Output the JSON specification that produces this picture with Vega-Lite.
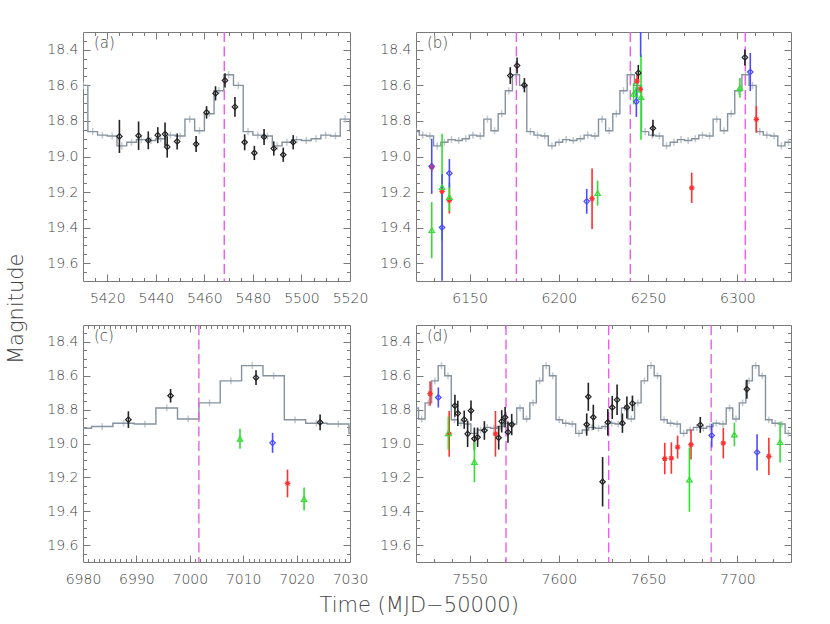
{
"$schema":"https://vega.github.io/schema/vega-lite/v6.json",
"padding":{"left":6,"top":31,"right":10,"bottom":5},
"background":"white",
"datasets":{
"a_model":[{"t":5406,"m":18.54,"e":0.02},{"t":5410,"m":18.60,"e":0.02},{"t":5414,"m":18.86,"e":0.02},{"t":5418,"m":18.88,"e":0.02},{"t":5422,"m":18.885,"e":0.02},{"t":5426,"m":18.94,"e":0.02},{"t":5430,"m":18.92,"e":0.02},{"t":5434,"m":18.905,"e":0.02},{"t":5438,"m":18.91,"e":0.02},{"t":5442,"m":18.90,"e":0.02},{"t":5446,"m":18.88,"e":0.02},{"t":5450,"m":18.885,"e":0.02},{"t":5454,"m":18.79,"e":0.02},{"t":5458,"m":18.855,"e":0.02},{"t":5462,"m":18.76,"e":0.02},{"t":5466,"m":18.63,"e":0.02},{"t":5470,"m":18.54,"e":0.02},{"t":5474,"m":18.60,"e":0.02},{"t":5478,"m":18.86,"e":0.02},{"t":5482,"m":18.88,"e":0.02},{"t":5486,"m":18.885,"e":0.02},{"t":5490,"m":18.94,"e":0.02},{"t":5494,"m":18.92,"e":0.02},{"t":5498,"m":18.905,"e":0.02},{"t":5502,"m":18.91,"e":0.02},{"t":5506,"m":18.90,"e":0.02},{"t":5510,"m":18.88,"e":0.02},{"t":5514,"m":18.885,"e":0.02},{"t":5518,"m":18.79,"e":0.02},{"t":5522,"m":18.855,"e":0.02}],
"a_dash":[{"t":5468.2}],
"a_obs":[{"t":5425.0,"m":18.887,"e":0.093,"band":"k"},{"t":5432.9,"m":18.883,"e":0.08,"band":"k"},{"t":5436.9,"m":18.909,"e":0.05,"band":"k"},{"t":5440.8,"m":18.88,"e":0.045,"band":"k"},{"t":5443.8,"m":18.874,"e":0.065,"band":"k"},{"t":5444.7,"m":18.946,"e":0.06,"band":"k"},{"t":5448.8,"m":18.915,"e":0.045,"band":"k"},{"t":5456.6,"m":18.93,"e":0.045,"band":"k"},{"t":5460.9,"m":18.752,"e":0.035,"band":"k"},{"t":5464.6,"m":18.645,"e":0.04,"band":"k"},{"t":5468.5,"m":18.572,"e":0.04,"band":"k"},{"t":5472.6,"m":18.721,"e":0.055,"band":"k"},{"t":5476.6,"m":18.92,"e":0.045,"band":"k"},{"t":5480.6,"m":18.98,"e":0.04,"band":"k"},{"t":5484.6,"m":18.89,"e":0.045,"band":"k"},{"t":5488.6,"m":18.955,"e":0.04,"band":"k"},{"t":5492.5,"m":18.99,"e":0.04,"band":"k"},{"t":5496.6,"m":18.92,"e":0.04,"band":"k"}],
"b_model":[{"t":6115.8,"m":18.60,"e":0.02},{"t":6119.8,"m":18.86,"e":0.02},{"t":6123.8,"m":18.88,"e":0.02},{"t":6127.8,"m":18.885,"e":0.02},{"t":6131.9,"m":18.94,"e":0.02},{"t":6135.9,"m":18.92,"e":0.02},{"t":6139.9,"m":18.905,"e":0.02},{"t":6143.9,"m":18.91,"e":0.02},{"t":6147.9,"m":18.90,"e":0.02},{"t":6151.9,"m":18.88,"e":0.02},{"t":6156.0,"m":18.885,"e":0.02},{"t":6160.0,"m":18.79,"e":0.02},{"t":6164.0,"m":18.855,"e":0.02},{"t":6168.0,"m":18.76,"e":0.02},{"t":6172.0,"m":18.63,"e":0.02},{"t":6176.0,"m":18.54,"e":0.02},{"t":6180.0,"m":18.60,"e":0.02},{"t":6184.1,"m":18.86,"e":0.02},{"t":6188.1,"m":18.88,"e":0.02},{"t":6192.1,"m":18.885,"e":0.02},{"t":6196.1,"m":18.94,"e":0.02},{"t":6200.1,"m":18.92,"e":0.02},{"t":6204.1,"m":18.905,"e":0.02},{"t":6208.1,"m":18.91,"e":0.02},{"t":6212.1,"m":18.90,"e":0.02},{"t":6216.2,"m":18.88,"e":0.02},{"t":6220.2,"m":18.885,"e":0.02},{"t":6224.2,"m":18.79,"e":0.02},{"t":6228.2,"m":18.855,"e":0.02},{"t":6232.2,"m":18.76,"e":0.02},{"t":6236.2,"m":18.63,"e":0.02},{"t":6240.3,"m":18.54,"e":0.02},{"t":6244.3,"m":18.60,"e":0.02},{"t":6248.3,"m":18.86,"e":0.02},{"t":6252.3,"m":18.88,"e":0.02},{"t":6256.3,"m":18.885,"e":0.02},{"t":6260.3,"m":18.94,"e":0.02},{"t":6264.4,"m":18.92,"e":0.02},{"t":6268.4,"m":18.905,"e":0.02},{"t":6272.4,"m":18.91,"e":0.02},{"t":6276.4,"m":18.90,"e":0.02},{"t":6280.4,"m":18.88,"e":0.02},{"t":6284.4,"m":18.885,"e":0.02},{"t":6288.4,"m":18.79,"e":0.02},{"t":6292.5,"m":18.855,"e":0.02},{"t":6296.5,"m":18.76,"e":0.02},{"t":6300.5,"m":18.63,"e":0.02},{"t":6304.5,"m":18.54,"e":0.02},{"t":6308.5,"m":18.60,"e":0.02},{"t":6312.5,"m":18.86,"e":0.02},{"t":6316.5,"m":18.88,"e":0.02},{"t":6320.6,"m":18.885,"e":0.02},{"t":6324.6,"m":18.94,"e":0.02},{"t":6328.6,"m":18.92,"e":0.02},{"t":6332.6,"m":18.905,"e":0.02}],
"b_dash":[{"t":6176.2},{"t":6240.0},{"t":6304.4}],
"b_obs":[{"t":6172.8,"m":18.545,"e":0.047,"band":"k"},{"t":6176.6,"m":18.489,"e":0.045,"band":"k"},{"t":6180.7,"m":18.599,"e":0.04,"band":"k"},{"t":6244.5,"m":18.53,"e":0.045,"band":"k"},{"t":6252.7,"m":18.841,"e":0.047,"band":"k"},{"t":6304.2,"m":18.443,"e":0.045,"band":"k"},
{"t":6128.8,"m":19.06,"e":0.02,"band":"r"},{"t":6134.6,"m":19.196,"e":0.03,"band":"r"},{"t":6138.7,"m":19.247,"e":0.074,"band":"r"},{"t":6218.6,"m":19.237,"e":0.17,"band":"r"},{"t":6243.8,"m":18.577,"e":0.04,"band":"r"},{"t":6245.6,"m":18.623,"e":0.02,"band":"r"},{"t":6274.4,"m":19.176,"e":0.085,"band":"r"},{"t":6310.6,"m":18.791,"e":0.075,"band":"r"},
{"t":6128.8,"m":19.414,"e":0.158,"band":"g"},{"t":6134.6,"m":19.172,"e":0.3,"band":"g"},{"t":6138.7,"m":19.228,"e":0.08,"band":"g"},{"t":6221.7,"m":19.206,"e":0.07,"band":"g"},{"t":6241.9,"m":18.647,"e":0.06,"band":"g"},{"t":6243.8,"m":18.623,"e":0.05,"band":"g"},{"t":6246.0,"m":18.666,"e":0.24,"band":"g"},{"t":6301.4,"m":18.614,"e":0.055,"band":"g"},
{"t":6128.8,"m":19.055,"e":0.155,"band":"b"},{"t":6134.6,"m":19.399,"e":0.3,"band":"b"},{"t":6138.7,"m":19.094,"e":0.08,"band":"b"},{"t":6215.6,"m":19.252,"e":0.07,"band":"b"},{"t":6243.4,"m":18.692,"e":0.085,"band":"b"},{"t":6245.8,"m":18.27,"e":0.17,"band":"b"},{"t":6307.2,"m":18.525,"e":0.107,"band":"b"}],
"c_model":[{"t":6975.6,"m":18.905,"e":0.02},{"t":6979.6,"m":18.91,"e":0.02},{"t":6983.6,"m":18.90,"e":0.02},{"t":6987.6,"m":18.88,"e":0.02},{"t":6991.6,"m":18.885,"e":0.02},{"t":6995.7,"m":18.79,"e":0.02},{"t":6999.7,"m":18.855,"e":0.02},{"t":7003.7,"m":18.76,"e":0.02},{"t":7007.7,"m":18.63,"e":0.02},{"t":7011.7,"m":18.54,"e":0.02},{"t":7015.7,"m":18.60,"e":0.02},{"t":7019.7,"m":18.86,"e":0.02},{"t":7023.7,"m":18.88,"e":0.02},{"t":7027.8,"m":18.885,"e":0.02},{"t":7031.8,"m":18.94,"e":0.02}],
"c_dash":[{"t":7001.7}],
"c_obs":[{"t":6988.5,"m":18.859,"e":0.049,"band":"k"},{"t":6996.4,"m":18.718,"e":0.04,"band":"k"},{"t":7012.4,"m":18.611,"e":0.043,"band":"k"},{"t":7024.4,"m":18.875,"e":0.047,"band":"k"},{"t":7009.4,"m":18.972,"e":0.059,"band":"g"},{"t":7021.4,"m":19.328,"e":0.068,"band":"g"},{"t":7015.5,"m":18.996,"e":0.059,"band":"b"},{"t":7018.3,"m":19.236,"e":0.082,"band":"r"}],
"d_model":[{"t":7515.92,"m":18.885,"e":0.02},{"t":7519.59,"m":18.79,"e":0.02},{"t":7523.25,"m":18.855,"e":0.02},{"t":7526.92,"m":18.76,"e":0.02},{"t":7530.59,"m":18.63,"e":0.02},{"t":7534.25,"m":18.54,"e":0.02},{"t":7537.92,"m":18.60,"e":0.02},{"t":7541.58,"m":18.86,"e":0.02},{"t":7545.25,"m":18.88,"e":0.02},{"t":7548.91,"m":18.885,"e":0.02},{"t":7552.58,"m":18.94,"e":0.02},{"t":7556.25,"m":18.92,"e":0.02},{"t":7559.91,"m":18.905,"e":0.02},{"t":7563.58,"m":18.91,"e":0.02},{"t":7567.24,"m":18.90,"e":0.02},{"t":7570.91,"m":18.88,"e":0.02},{"t":7574.58,"m":18.885,"e":0.02},{"t":7578.24,"m":18.79,"e":0.02},{"t":7581.91,"m":18.855,"e":0.02},{"t":7585.57,"m":18.76,"e":0.02},{"t":7589.24,"m":18.63,"e":0.02},{"t":7592.90,"m":18.54,"e":0.02},{"t":7596.57,"m":18.60,"e":0.02},{"t":7600.24,"m":18.86,"e":0.02},{"t":7603.90,"m":18.88,"e":0.02},{"t":7607.57,"m":18.885,"e":0.02},{"t":7611.23,"m":18.94,"e":0.02},{"t":7614.90,"m":18.92,"e":0.02},{"t":7618.56,"m":18.905,"e":0.02},{"t":7622.23,"m":18.91,"e":0.02},{"t":7625.90,"m":18.90,"e":0.02},{"t":7629.56,"m":18.88,"e":0.02},{"t":7633.23,"m":18.885,"e":0.02},{"t":7636.89,"m":18.79,"e":0.02},{"t":7640.56,"m":18.855,"e":0.02},{"t":7644.23,"m":18.76,"e":0.02},{"t":7647.89,"m":18.63,"e":0.02},{"t":7651.56,"m":18.54,"e":0.02},{"t":7655.22,"m":18.60,"e":0.02},{"t":7658.89,"m":18.86,"e":0.02},{"t":7662.55,"m":18.88,"e":0.02},{"t":7666.22,"m":18.885,"e":0.02},{"t":7669.89,"m":18.94,"e":0.02},{"t":7673.55,"m":18.92,"e":0.02},{"t":7677.22,"m":18.905,"e":0.02},{"t":7680.88,"m":18.91,"e":0.02},{"t":7684.55,"m":18.90,"e":0.02},{"t":7688.21,"m":18.88,"e":0.02},{"t":7691.88,"m":18.885,"e":0.02},{"t":7695.55,"m":18.79,"e":0.02},{"t":7699.21,"m":18.855,"e":0.02},{"t":7702.88,"m":18.76,"e":0.02},{"t":7706.54,"m":18.63,"e":0.02},{"t":7710.21,"m":18.54,"e":0.02},{"t":7713.88,"m":18.60,"e":0.02},{"t":7717.54,"m":18.86,"e":0.02},{"t":7721.21,"m":18.88,"e":0.02},{"t":7724.87,"m":18.885,"e":0.02},{"t":7728.54,"m":18.94,"e":0.02},{"t":7732.20,"m":18.92,"e":0.02}],
"d_dash":[{"t":7570.4},{"t":7627.9},{"t":7685.3}],
"d_obs":[{"t":7541.8,"m":18.777,"e":0.065,"band":"k"},{"t":7543.4,"m":18.822,"e":0.075,"band":"k"},{"t":7547.0,"m":18.859,"e":0.054,"band":"k"},{"t":7548.9,"m":18.943,"e":0.078,"band":"k"},{"t":7550.8,"m":18.806,"e":0.06,"band":"k"},{"t":7552.7,"m":18.972,"e":0.066,"band":"k"},{"t":7554.5,"m":18.963,"e":0.057,"band":"k"},{"t":7558.3,"m":18.923,"e":0.055,"band":"k"},{"t":7566.3,"m":18.966,"e":0.07,"band":"k"},{"t":7568.0,"m":18.869,"e":0.066,"band":"k"},{"t":7569.9,"m":18.845,"e":0.06,"band":"k"},{"t":7571.5,"m":18.933,"e":0.063,"band":"k"},{"t":7573.6,"m":18.888,"e":0.063,"band":"k"},{"t":7615.6,"m":18.888,"e":0.066,"band":"k"},{"t":7616.5,"m":18.724,"e":0.083,"band":"k"},{"t":7619.3,"m":18.845,"e":0.074,"band":"k"},{"t":7624.5,"m":19.226,"e":0.146,"band":"k"},{"t":7627.4,"m":18.875,"e":0.078,"band":"k"},{"t":7629.9,"m":18.787,"e":0.068,"band":"k"},{"t":7632.6,"m":18.742,"e":0.09,"band":"k"},{"t":7635.6,"m":18.88,"e":0.057,"band":"k"},{"t":7638.1,"m":18.787,"e":0.065,"band":"k"},{"t":7641.2,"m":18.763,"e":0.046,"band":"k"},{"t":7679.2,"m":18.89,"e":0.047,"band":"k"},{"t":7705.3,"m":18.679,"e":0.056,"band":"k"},
{"t":7527.9,"m":18.705,"e":0.072,"band":"r"},{"t":7538.6,"m":18.943,"e":0.135,"band":"r"},{"t":7564.5,"m":18.943,"e":0.135,"band":"r"},{"t":7659.3,"m":19.089,"e":0.093,"band":"r"},{"t":7663.0,"m":19.086,"e":0.093,"band":"r"},{"t":7666.5,"m":19.021,"e":0.068,"band":"r"},{"t":7674.0,"m":19.007,"e":0.088,"band":"r"},{"t":7692.1,"m":18.998,"e":0.09,"band":"r"},{"t":7717.6,"m":19.076,"e":0.11,"band":"r"},
{"t":7532.5,"m":18.728,"e":0.059,"band":"b"},{"t":7685.6,"m":18.953,"e":0.07,"band":"b"},{"t":7711.0,"m":19.052,"e":0.107,"band":"b"},
{"t":7538.1,"m":18.939,"e":0.098,"band":"g"},{"t":7552.7,"m":19.109,"e":0.12,"band":"g"},{"t":7673.1,"m":19.213,"e":0.19,"band":"g"},{"t":7698.3,"m":18.947,"e":0.07,"band":"g"},{"t":7723.9,"m":18.992,"e":0.12,"band":"g"}]
},
"title":{"text":"Time (MJD−50000)","orient":"bottom","anchor":"middle","offset":8,"dx":20,"fontSize":21,"font":"DejaVu Sans","fontWeight":300,"color":"#444444"},
"vconcat":[{
"title":{"text":"Magnitude","orient":"left","anchor":"middle","offset":19,"fontSize":21,"font":"DejaVu Sans","fontWeight":300,"color":"#444444"},
"columns":2,"spacing":{"row":44,"column":66},"bounds":"flush","align":"each",
"concat":[
{"width":267,"height":249,
"title":{"text":"(a)","anchor":"start","frame":"group","orient":"top","offset":-19,"dx":11,"fontSize":15,"fontWeight":300,"color":"#444444","font":"DejaVu Sans"},
"resolve":{"axis":{"x":"independent","y":"independent"}},
"layer":[
{"data":{"name":"a_model"},"mark":{"type":"point","opacity":0,"clip":true},"encoding":{
"x":{"field":"t","type":"quantitative","scale":{"domain":[5410,5520],"nice":false,"zero":false},"axis":{"orient":"bottom","values":[5420,5440,5460,5480,5500,5520],"format":"d","ticks":false,"domain":false,"grid":false,"title":null,"labelPadding":10,"labelFlush":false,"labelBound":false,"labelOverlap":false}},
"y":{"field":"m","type":"quantitative","scale":{"domain":[18.3,19.7],"nice":false,"zero":false,"reverse":true},"axis":{"orient":"left","values":[18.4,18.6,18.8,19.0,19.2,19.4,19.6],"format":".1f","ticks":false,"domain":false,"grid":false,"title":null,"labelPadding":5,"labelFlush":false,"labelBound":false,"labelOverlap":false}}}},
{"data":{"name":"a_model"},"mark":{"type":"point","opacity":0,"clip":true},"encoding":{
"x":{"field":"t","type":"quantitative","scale":{"domain":[5410,5520],"nice":false,"zero":false},"axis":{"orient":"top","values":[5415,5420,5425,5430,5435,5440,5445,5450,5455,5460,5465,5470,5475,5480,5485,5490,5495,5500,5505,5510,5515],"labels":false,"domain":false,"grid":false,"title":null,"tickSize":{"condition":{"test":"datum.value % 20 === 0","value":-7},"value":-3.5}}},
"y":{"field":"m","type":"quantitative","scale":{"domain":[18.3,19.7],"nice":false,"zero":false,"reverse":true},"axis":{"orient":"right","values":[18.35,18.4,18.45,18.5,18.55,18.6,18.65,18.7,18.75,18.8,18.85,18.9,18.95,19.0,19.05,19.1,19.15,19.2,19.25,19.3,19.35,19.4,19.45,19.5,19.55,19.6,19.65],"labels":false,"domain":false,"grid":false,"title":null,"tickSize":{"condition":{"test":"abs(datum.value*5 - round(datum.value*5)) < 0.001","value":-7},"value":-3.5}}}}},
{"data":{"name":"a_model"},"mark":{"type":"point","opacity":0,"clip":true},"encoding":{
"x":{"field":"t","type":"quantitative","scale":{"domain":[5410,5520],"nice":false,"zero":false},"axis":{"orient":"bottom","values":[5415,5420,5425,5430,5435,5440,5445,5450,5455,5460,5465,5470,5475,5480,5485,5490,5495,5500,5505,5510,5515],"labels":false,"domain":false,"grid":false,"title":null,"tickSize":{"condition":{"test":"datum.value % 20 === 0","value":-7},"value":-3.5}}},
"y":{"field":"m","type":"quantitative","scale":{"domain":[18.3,19.7],"nice":false,"zero":false,"reverse":true},"axis":{"orient":"left","values":[18.35,18.4,18.45,18.5,18.55,18.6,18.65,18.7,18.75,18.8,18.85,18.9,18.95,19.0,19.05,19.1,19.15,19.2,19.25,19.3,19.35,19.4,19.45,19.5,19.55,19.6,19.65],"labels":false,"domain":false,"grid":false,"title":null,"tickSize":{"condition":{"test":"abs(datum.value*5 - round(datum.value*5)) < 0.001","value":-7},"value":-3.5}}}}},
{"data":{"name":"a_model"},"mark":{"type":"errorbar","color":"#c2c8ce","thickness":1.5,"clip":true},"encoding":{
"x":{"field":"t","type":"quantitative","scale":{"domain":[5410,5520],"nice":false,"zero":false},"axis":null},
"y":{"field":"m","type":"quantitative","scale":{"domain":[18.3,19.7],"nice":false,"zero":false,"reverse":true},"axis":null},"yError":{"field":"e"}}},
{"data":{"name":"a_model"},"mark":{"type":"line","interpolate":"step","color":"#8592a0","strokeWidth":1.4,"clip":true},"encoding":{
"x":{"field":"t","type":"quantitative","scale":{"domain":[5410,5520],"nice":false,"zero":false},"axis":null},
"y":{"field":"m","type":"quantitative","scale":{"domain":[18.3,19.7],"nice":false,"zero":false,"reverse":true},"axis":null}}},
{"data":{"name":"a_dash"},"mark":{"type":"rule","color":"#ee5cee","strokeWidth":1.4,"strokeDash":[10,4.5],"clip":true},"encoding":{
"x":{"field":"t","type":"quantitative","scale":{"domain":[5410,5520],"nice":false,"zero":false},"axis":null}}},
{"data":{"name":"a_obs"},"mark":{"type":"errorbar","thickness":1.6,"clip":true},"encoding":{
"x":{"field":"t","type":"quantitative","scale":{"domain":[5410,5520],"nice":false,"zero":false},"axis":null},
"y":{"field":"m","type":"quantitative","scale":{"domain":[18.3,19.7],"nice":false,"zero":false,"reverse":true},"axis":null},"yError":{"field":"e"},
"color":{"field":"band","type":"nominal","scale":{"domain":["k","r","g","b"],"range":["#222222","#ff3030","#33dd33","#4a4aff"]},"legend":null}}},
{"data":{"name":"a_obs"},"mark":{"type":"point","filled":false,"strokeWidth":1.2,"size":30,"opacity":1,"clip":true},"encoding":{
"x":{"field":"t","type":"quantitative","scale":{"domain":[5410,5520],"nice":false,"zero":false},"axis":null},
"y":{"field":"m","type":"quantitative","scale":{"domain":[18.3,19.7],"nice":false,"zero":false,"reverse":true},"axis":null},
"color":{"field":"band","type":"nominal","scale":{"domain":["k","r","g","b"],"range":["#222222","#ff3030","#33dd33","#4a4aff"]},"legend":null},
"shape":{"field":"band","type":"nominal","scale":{"domain":["k","r","g","b"],"range":["diamond","M-1,0L1,0M0,-1L0,1M-0.72,-0.72L0.72,0.72M-0.72,0.72L0.72,-0.72","triangle-up","diamond"]},"legend":null}}}
]},
{"width":375,"height":249,
"title":{"text":"(b)","anchor":"start","frame":"group","orient":"top","offset":-19,"dx":11,"fontSize":15,"fontWeight":300,"color":"#444444","font":"DejaVu Sans"},
"resolve":{"axis":{"x":"independent","y":"independent"}},
"layer":[
{"data":{"name":"b_model"},"mark":{"type":"point","opacity":0,"clip":true},"encoding":{
"x":{"field":"t","type":"quantitative","scale":{"domain":[6120,6330],"nice":false,"zero":false},"axis":{"orient":"bottom","values":[6150,6200,6250,6300],"format":"d","ticks":false,"domain":false,"grid":false,"title":null,"labelPadding":10,"labelFlush":false,"labelBound":false,"labelOverlap":false}},
"y":{"field":"m","type":"quantitative","scale":{"domain":[18.3,19.7],"nice":false,"zero":false,"reverse":true},"axis":{"orient":"left","values":[18.4,18.6,18.8,19.0,19.2,19.4,19.6],"format":".1f","ticks":false,"domain":false,"grid":false,"title":null,"labelPadding":5,"labelFlush":false,"labelBound":false,"labelOverlap":false}}}},
{"data":{"name":"b_model"},"mark":{"type":"point","opacity":0,"clip":true},"encoding":{
"x":{"field":"t","type":"quantitative","scale":{"domain":[6120,6330],"nice":false,"zero":false},"axis":{"orient":"top","values":[6130,6140,6150,6160,6170,6180,6190,6200,6210,6220,6230,6240,6250,6260,6270,6280,6290,6300,6310,6320],"labels":false,"domain":false,"grid":false,"title":null,"tickSize":{"condition":{"test":"datum.value % 50 === 0","value":-7},"value":-3.5}}},
"y":{"field":"m","type":"quantitative","scale":{"domain":[18.3,19.7],"nice":false,"zero":false,"reverse":true},"axis":{"orient":"right","values":[18.35,18.4,18.45,18.5,18.55,18.6,18.65,18.7,18.75,18.8,18.85,18.9,18.95,19.0,19.05,19.1,19.15,19.2,19.25,19.3,19.35,19.4,19.45,19.5,19.55,19.6,19.65],"labels":false,"domain":false,"grid":false,"title":null,"tickSize":{"condition":{"test":"abs(datum.value*5 - round(datum.value*5)) < 0.001","value":-7},"value":-3.5}}}}},
{"data":{"name":"b_model"},"mark":{"type":"point","opacity":0,"clip":true},"encoding":{
"x":{"field":"t","type":"quantitative","scale":{"domain":[6120,6330],"nice":false,"zero":false},"axis":{"orient":"bottom","values":[6130,6140,6150,6160,6170,6180,6190,6200,6210,6220,6230,6240,6250,6260,6270,6280,6290,6300,6310,6320],"labels":false,"domain":false,"grid":false,"title":null,"tickSize":{"condition":{"test":"datum.value % 50 === 0","value":-7},"value":-3.5}}},
"y":{"field":"m","type":"quantitative","scale":{"domain":[18.3,19.7],"nice":false,"zero":false,"reverse":true},"axis":{"orient":"left","values":[18.35,18.4,18.45,18.5,18.55,18.6,18.65,18.7,18.75,18.8,18.85,18.9,18.95,19.0,19.05,19.1,19.15,19.2,19.25,19.3,19.35,19.4,19.45,19.5,19.55,19.6,19.65],"labels":false,"domain":false,"grid":false,"title":null,"tickSize":{"condition":{"test":"abs(datum.value*5 - round(datum.value*5)) < 0.001","value":-7},"value":-3.5}}}}},
{"data":{"name":"b_model"},"mark":{"type":"errorbar","color":"#c2c8ce","thickness":1.5,"clip":true},"encoding":{
"x":{"field":"t","type":"quantitative","scale":{"domain":[6120,6330],"nice":false,"zero":false},"axis":null},
"y":{"field":"m","type":"quantitative","scale":{"domain":[18.3,19.7],"nice":false,"zero":false,"reverse":true},"axis":null},"yError":{"field":"e"}}},
{"data":{"name":"b_model"},"mark":{"type":"line","interpolate":"step","color":"#8592a0","strokeWidth":1.4,"clip":true},"encoding":{
"x":{"field":"t","type":"quantitative","scale":{"domain":[6120,6330],"nice":false,"zero":false},"axis":null},
"y":{"field":"m","type":"quantitative","scale":{"domain":[18.3,19.7],"nice":false,"zero":false,"reverse":true},"axis":null}}},
{"data":{"name":"b_dash"},"mark":{"type":"rule","color":"#ee5cee","strokeWidth":1.4,"strokeDash":[10,4.5],"clip":true},"encoding":{
"x":{"field":"t","type":"quantitative","scale":{"domain":[6120,6330],"nice":false,"zero":false},"axis":null}}},
{"data":{"name":"b_obs"},"mark":{"type":"errorbar","thickness":1.6,"clip":true},"encoding":{
"x":{"field":"t","type":"quantitative","scale":{"domain":[6120,6330],"nice":false,"zero":false},"axis":null},
"y":{"field":"m","type":"quantitative","scale":{"domain":[18.3,19.7],"nice":false,"zero":false,"reverse":true},"axis":null},"yError":{"field":"e"},
"color":{"field":"band","type":"nominal","scale":{"domain":["k","r","g","b"],"range":["#222222","#ff3030","#33dd33","#4a4aff"]},"legend":null}}},
{"data":{"name":"b_obs"},"mark":{"type":"point","filled":false,"strokeWidth":1.2,"size":30,"opacity":1,"clip":true},"encoding":{
"x":{"field":"t","type":"quantitative","scale":{"domain":[6120,6330],"nice":false,"zero":false},"axis":null},
"y":{"field":"m","type":"quantitative","scale":{"domain":[18.3,19.7],"nice":false,"zero":false,"reverse":true},"axis":null},
"color":{"field":"band","type":"nominal","scale":{"domain":["k","r","g","b"],"range":["#222222","#ff3030","#33dd33","#4a4aff"]},"legend":null},
"shape":{"field":"band","type":"nominal","scale":{"domain":["k","r","g","b"],"range":["diamond","M-1,0L1,0M0,-1L0,1M-0.72,-0.72L0.72,0.72M-0.72,0.72L0.72,-0.72","triangle-up","diamond"]},"legend":null}}}
]},
{"width":267,"height":237,
"title":{"text":"(c)","anchor":"start","frame":"group","orient":"top","offset":-19,"dx":11,"fontSize":15,"fontWeight":300,"color":"#444444","font":"DejaVu Sans"},
"resolve":{"axis":{"x":"independent","y":"independent"}},
"layer":[
{"data":{"name":"c_model"},"mark":{"type":"point","opacity":0,"clip":true},"encoding":{
"x":{"field":"t","type":"quantitative","scale":{"domain":[6980,7030],"nice":false,"zero":false},"axis":{"orient":"bottom","values":[6980,6990,7000,7010,7020,7030],"format":"d","ticks":false,"domain":false,"grid":false,"title":null,"labelPadding":10,"labelFlush":false,"labelBound":false,"labelOverlap":false}},
"y":{"field":"m","type":"quantitative","scale":{"domain":[18.3,19.7],"nice":false,"zero":false,"reverse":true},"axis":{"orient":"left","values":[18.4,18.6,18.8,19.0,19.2,19.4,19.6],"format":".1f","ticks":false,"domain":false,"grid":false,"title":null,"labelPadding":5,"labelFlush":false,"labelBound":false,"labelOverlap":false}}}},
{"data":{"name":"c_model"},"mark":{"type":"point","opacity":0,"clip":true},"encoding":{
"x":{"field":"t","type":"quantitative","scale":{"domain":[6980,7030],"nice":false,"zero":false},"axis":{"orient":"top","values":[6981,6982,6983,6984,6985,6986,6987,6988,6989,6990,6991,6992,6993,6994,6995,6996,6997,6998,6999,7000,7001,7002,7003,7004,7005,7006,7007,7008,7009,7010,7011,7012,7013,7014,7015,7016,7017,7018,7019,7020,7021,7022,7023,7024,7025,7026,7027,7028,7029],"labels":false,"domain":false,"grid":false,"title":null,"tickSize":{"condition":{"test":"datum.value % 10 === 0","value":-7},"value":-3.5}}},
"y":{"field":"m","type":"quantitative","scale":{"domain":[18.3,19.7],"nice":false,"zero":false,"reverse":true},"axis":{"orient":"right","values":[18.35,18.4,18.45,18.5,18.55,18.6,18.65,18.7,18.75,18.8,18.85,18.9,18.95,19.0,19.05,19.1,19.15,19.2,19.25,19.3,19.35,19.4,19.45,19.5,19.55,19.6,19.65],"labels":false,"domain":false,"grid":false,"title":null,"tickSize":{"condition":{"test":"abs(datum.value*5 - round(datum.value*5)) < 0.001","value":-7},"value":-3.5}}}}},
{"data":{"name":"c_model"},"mark":{"type":"point","opacity":0,"clip":true},"encoding":{
"x":{"field":"t","type":"quantitative","scale":{"domain":[6980,7030],"nice":false,"zero":false},"axis":{"orient":"bottom","values":[6981,6982,6983,6984,6985,6986,6987,6988,6989,6990,6991,6992,6993,6994,6995,6996,6997,6998,6999,7000,7001,7002,7003,7004,7005,7006,7007,7008,7009,7010,7011,7012,7013,7014,7015,7016,7017,7018,7019,7020,7021,7022,7023,7024,7025,7026,7027,7028,7029],"labels":false,"domain":false,"grid":false,"title":null,"tickSize":{"condition":{"test":"datum.value % 10 === 0","value":-7},"value":-3.5}}},
"y":{"field":"m","type":"quantitative","scale":{"domain":[18.3,19.7],"nice":false,"zero":false,"reverse":true},"axis":{"orient":"left","values":[18.35,18.4,18.45,18.5,18.55,18.6,18.65,18.7,18.75,18.8,18.85,18.9,18.95,19.0,19.05,19.1,19.15,19.2,19.25,19.3,19.35,19.4,19.45,19.5,19.55,19.6,19.65],"labels":false,"domain":false,"grid":false,"title":null,"tickSize":{"condition":{"test":"abs(datum.value*5 - round(datum.value*5)) < 0.001","value":-7},"value":-3.5}}}}},
{"data":{"name":"c_model"},"mark":{"type":"errorbar","color":"#c2c8ce","thickness":1.5,"clip":true},"encoding":{
"x":{"field":"t","type":"quantitative","scale":{"domain":[6980,7030],"nice":false,"zero":false},"axis":null},
"y":{"field":"m","type":"quantitative","scale":{"domain":[18.3,19.7],"nice":false,"zero":false,"reverse":true},"axis":null},"yError":{"field":"e"}}},
{"data":{"name":"c_model"},"mark":{"type":"line","interpolate":"step","color":"#8592a0","strokeWidth":1.4,"clip":true},"encoding":{
"x":{"field":"t","type":"quantitative","scale":{"domain":[6980,7030],"nice":false,"zero":false},"axis":null},
"y":{"field":"m","type":"quantitative","scale":{"domain":[18.3,19.7],"nice":false,"zero":false,"reverse":true},"axis":null}}},
{"data":{"name":"c_dash"},"mark":{"type":"rule","color":"#ee5cee","strokeWidth":1.4,"strokeDash":[10,4.5],"clip":true},"encoding":{
"x":{"field":"t","type":"quantitative","scale":{"domain":[6980,7030],"nice":false,"zero":false},"axis":null}}},
{"data":{"name":"c_obs"},"mark":{"type":"errorbar","thickness":1.6,"clip":true},"encoding":{
"x":{"field":"t","type":"quantitative","scale":{"domain":[6980,7030],"nice":false,"zero":false},"axis":null},
"y":{"field":"m","type":"quantitative","scale":{"domain":[18.3,19.7],"nice":false,"zero":false,"reverse":true},"axis":null},"yError":{"field":"e"},
"color":{"field":"band","type":"nominal","scale":{"domain":["k","r","g","b"],"range":["#222222","#ff3030","#33dd33","#4a4aff"]},"legend":null}}},
{"data":{"name":"c_obs"},"mark":{"type":"point","filled":false,"strokeWidth":1.2,"size":30,"opacity":1,"clip":true},"encoding":{
"x":{"field":"t","type":"quantitative","scale":{"domain":[6980,7030],"nice":false,"zero":false},"axis":null},
"y":{"field":"m","type":"quantitative","scale":{"domain":[18.3,19.7],"nice":false,"zero":false,"reverse":true},"axis":null},
"color":{"field":"band","type":"nominal","scale":{"domain":["k","r","g","b"],"range":["#222222","#ff3030","#33dd33","#4a4aff"]},"legend":null},
"shape":{"field":"band","type":"nominal","scale":{"domain":["k","r","g","b"],"range":["diamond","M-1,0L1,0M0,-1L0,1M-0.72,-0.72L0.72,0.72M-0.72,0.72L0.72,-0.72","triangle-up","diamond"]},"legend":null}}}
]},
{"width":375,"height":237,
"title":{"text":"(d)","anchor":"start","frame":"group","orient":"top","offset":-19,"dx":11,"fontSize":15,"fontWeight":300,"color":"#444444","font":"DejaVu Sans"},
"resolve":{"axis":{"x":"independent","y":"independent"}},
"layer":[
{"data":{"name":"d_model"},"mark":{"type":"point","opacity":0,"clip":true},"encoding":{
"x":{"field":"t","type":"quantitative","scale":{"domain":[7520,7730],"nice":false,"zero":false},"axis":{"orient":"bottom","values":[7550,7600,7650,7700],"format":"d","ticks":false,"domain":false,"grid":false,"title":null,"labelPadding":10,"labelFlush":false,"labelBound":false,"labelOverlap":false}},
"y":{"field":"m","type":"quantitative","scale":{"domain":[18.3,19.7],"nice":false,"zero":false,"reverse":true},"axis":{"orient":"left","values":[18.4,18.6,18.8,19.0,19.2,19.4,19.6],"format":".1f","ticks":false,"domain":false,"grid":false,"title":null,"labelPadding":5,"labelFlush":false,"labelBound":false,"labelOverlap":false}}}},
{"data":{"name":"d_model"},"mark":{"type":"point","opacity":0,"clip":true},"encoding":{
"x":{"field":"t","type":"quantitative","scale":{"domain":[7520,7730],"nice":false,"zero":false},"axis":{"orient":"top","values":[7530,7540,7550,7560,7570,7580,7590,7600,7610,7620,7630,7640,7650,7660,7670,7680,7690,7700,7710,7720],"labels":false,"domain":false,"grid":false,"title":null,"tickSize":{"condition":{"test":"datum.value % 50 === 0","value":-7},"value":-3.5}}},
"y":{"field":"m","type":"quantitative","scale":{"domain":[18.3,19.7],"nice":false,"zero":false,"reverse":true},"axis":{"orient":"right","values":[18.35,18.4,18.45,18.5,18.55,18.6,18.65,18.7,18.75,18.8,18.85,18.9,18.95,19.0,19.05,19.1,19.15,19.2,19.25,19.3,19.35,19.4,19.45,19.5,19.55,19.6,19.65],"labels":false,"domain":false,"grid":false,"title":null,"tickSize":{"condition":{"test":"abs(datum.value*5 - round(datum.value*5)) < 0.001","value":-7},"value":-3.5}}}}},
{"data":{"name":"d_model"},"mark":{"type":"point","opacity":0,"clip":true},"encoding":{
"x":{"field":"t","type":"quantitative","scale":{"domain":[7520,7730],"nice":false,"zero":false},"axis":{"orient":"bottom","values":[7530,7540,7550,7560,7570,7580,7590,7600,7610,7620,7630,7640,7650,7660,7670,7680,7690,7700,7710,7720],"labels":false,"domain":false,"grid":false,"title":null,"tickSize":{"condition":{"test":"datum.value % 50 === 0","value":-7},"value":-3.5}}},
"y":{"field":"m","type":"quantitative","scale":{"domain":[18.3,19.7],"nice":false,"zero":false,"reverse":true},"axis":{"orient":"left","values":[18.35,18.4,18.45,18.5,18.55,18.6,18.65,18.7,18.75,18.8,18.85,18.9,18.95,19.0,19.05,19.1,19.15,19.2,19.25,19.3,19.35,19.4,19.45,19.5,19.55,19.6,19.65],"labels":false,"domain":false,"grid":false,"title":null,"tickSize":{"condition":{"test":"abs(datum.value*5 - round(datum.value*5)) < 0.001","value":-7},"value":-3.5}}}}},
{"data":{"name":"d_model"},"mark":{"type":"errorbar","color":"#c2c8ce","thickness":1.5,"clip":true},"encoding":{
"x":{"field":"t","type":"quantitative","scale":{"domain":[7520,7730],"nice":false,"zero":false},"axis":null},
"y":{"field":"m","type":"quantitative","scale":{"domain":[18.3,19.7],"nice":false,"zero":false,"reverse":true},"axis":null},"yError":{"field":"e"}}},
{"data":{"name":"d_model"},"mark":{"type":"line","interpolate":"step","color":"#8592a0","strokeWidth":1.4,"clip":true},"encoding":{
"x":{"field":"t","type":"quantitative","scale":{"domain":[7520,7730],"nice":false,"zero":false},"axis":null},
"y":{"field":"m","type":"quantitative","scale":{"domain":[18.3,19.7],"nice":false,"zero":false,"reverse":true},"axis":null}}},
{"data":{"name":"d_dash"},"mark":{"type":"rule","color":"#ee5cee","strokeWidth":1.4,"strokeDash":[10,4.5],"clip":true},"encoding":{
"x":{"field":"t","type":"quantitative","scale":{"domain":[7520,7730],"nice":false,"zero":false},"axis":null}}},
{"data":{"name":"d_obs"},"mark":{"type":"errorbar","thickness":1.6,"clip":true},"encoding":{
"x":{"field":"t","type":"quantitative","scale":{"domain":[7520,7730],"nice":false,"zero":false},"axis":null},
"y":{"field":"m","type":"quantitative","scale":{"domain":[18.3,19.7],"nice":false,"zero":false,"reverse":true},"axis":null},"yError":{"field":"e"},
"color":{"field":"band","type":"nominal","scale":{"domain":["k","r","g","b"],"range":["#222222","#ff3030","#33dd33","#4a4aff"]},"legend":null}}},
{"data":{"name":"d_obs"},"mark":{"type":"point","filled":false,"strokeWidth":1.2,"size":30,"opacity":1,"clip":true},"encoding":{
"x":{"field":"t","type":"quantitative","scale":{"domain":[7520,7730],"nice":false,"zero":false},"axis":null},
"y":{"field":"m","type":"quantitative","scale":{"domain":[18.3,19.7],"nice":false,"zero":false,"reverse":true},"axis":null},
"color":{"field":"band","type":"nominal","scale":{"domain":["k","r","g","b"],"range":["#222222","#ff3030","#33dd33","#4a4aff"]},"legend":null},
"shape":{"field":"band","type":"nominal","scale":{"domain":["k","r","g","b"],"range":["diamond","M-1,0L1,0M0,-1L0,1M-0.72,-0.72L0.72,0.72M-0.72,0.72L0.72,-0.72","triangle-up","diamond"]},"legend":null}}}
]}
]}],
"config":{
"view":{"stroke":"#7a7a7a","strokeWidth":1},
"axis":{"labelFont":"DejaVu Sans","labelFontSize":14,"labelFontWeight":300,"labelColor":"#444444","tickColor":"#7a7a7a","tickWidth":1,"grid":false,"domain":false},
"title":{"font":"DejaVu Sans","color":"#444444"}
}
}
